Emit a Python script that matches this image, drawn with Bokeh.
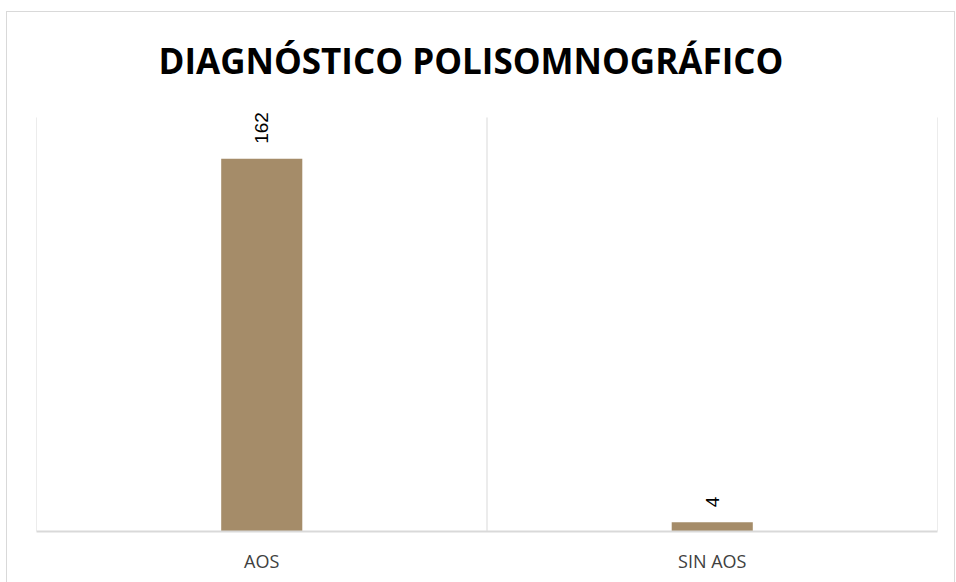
from math import pi
from bokeh.plotting import figure
from bokeh.models import ColumnDataSource, LabelSet
from bokeh.core.properties import value
from bokeh.embed import file_html
from bokeh.resources import INLINE

categories = ["AOS", "SIN AOS"]
counts = [162, 4]
labels = [str(c) for c in counts]
y_max = 180

src = ColumnDataSource(dict(cat=categories, count=counts, label=labels))

p = figure(x_range=categories, y_range=(0, 185.2), width=949, height=572,
           output_backend="svg", toolbar_location=None,
           min_border_left=29, min_border_right=19, min_border_top=0, min_border_bottom=53,
           title="DIAGNÓSTICO POLISOMNOGRÁFICO")
p.styles = {"border": "1px solid #d9d9d9", "margin-left": "6px", "margin-top": "11px"}
p.x_range.range_padding = 0
p.outline_line_color = None

p.title.text_font = "Open Sans"
p.title.text_font_style = "bold"
p.title.text_font_size = "35px"
p.title.text_color = "#000000"
p.title.align = "left"
p.title.offset = 122
p.title.standoff = 44

# category boundary lines (vertical gridlines between categories)
n = len(categories)
p.segment(x0=list(range(n + 1)), x1=list(range(n + 1)), y0=[0] * (n + 1), y1=[y_max] * (n + 1),
          line_color="#d9d9d9", line_width=1)

p.vbar(x="cat", top="count", width=0.18, source=src, fill_color="#a58c69", line_color=None)

lbl = LabelSet(x="cat", y="count", text="label", source=src, angle=pi / 2,
               text_align="left", text_baseline="middle", y_offset=15,
               text_font=value("Liberation Sans"), text_font_size=value("19px"),
               text_color="#000000")
p.add_layout(lbl)

p.yaxis.visible = False
p.ygrid.visible = False
p.xgrid.visible = False
p.xaxis.axis_line_color = "#d9d9d9"
p.xaxis.axis_line_width = 2
p.xaxis.major_tick_line_color = None
p.xaxis.minor_tick_line_color = None
p.xaxis.major_label_text_font = "Open Sans"
p.xaxis.major_label_text_font_size = "18px"
p.xaxis.major_label_text_color = "#404040"
p.xaxis.major_label_standoff = 11

open("out.html", "w").write(file_html(p, INLINE))
